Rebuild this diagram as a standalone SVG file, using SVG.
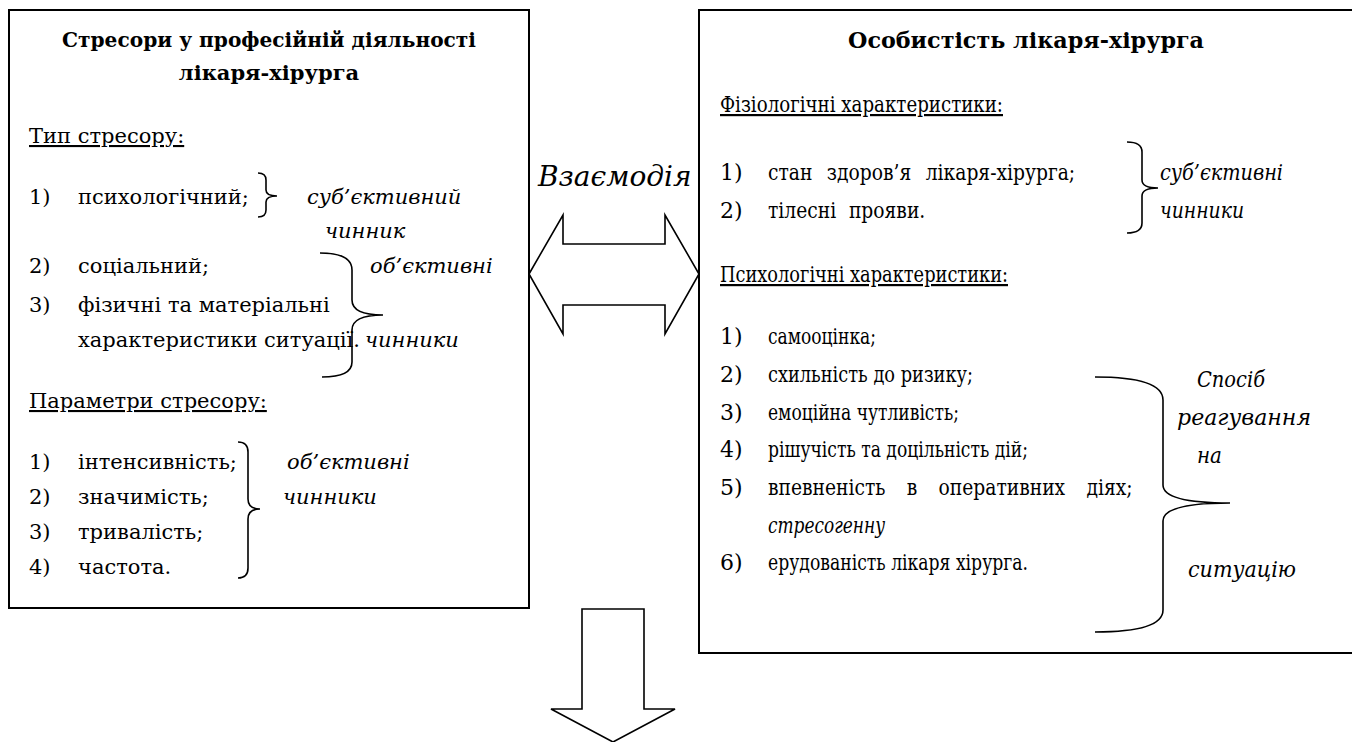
<svg xmlns="http://www.w3.org/2000/svg" width="1352" height="742" viewBox="0 0 1352 742">
<style>
text{font-family:"DejaVu Serif","Liberation Serif",serif;font-size:21px;fill:#000}
.r text{font-size:22px}
.b{font-weight:700}
.i{font-style:italic}
.u{text-decoration:underline}
.box{fill:#fff;stroke:#000;stroke-width:2}
.br{fill:none;stroke:#000;stroke-width:1.6}
.arr{fill:#fff;stroke:#000;stroke-width:1.6;stroke-linejoin:miter}
</style>
<rect width="1352" height="742" fill="#fff"/>
<g id="stressors">
<rect class="box" x="9" y="10" width="520" height="598"/>
<text class="b" x="269" y="47" text-anchor="middle" textLength="414" lengthAdjust="spacingAndGlyphs">Стресори у професійній діяльності</text>
<text class="b" x="269" y="80" text-anchor="middle">лікаря-хірурга</text>
<text class="u" x="29" y="143">Тип стресору:</text>
<text x="29" y="204">1)</text><text x="78" y="204">психологічний;</text>
<path class="br" d="M258,173 Q266,173 266,180 L266,190 Q266,196 277,196 Q266,196 266,202 L266,210 Q266,217 258,217"/>
<text class="i" x="307" y="204">суб’єктивний</text>
<text class="i" x="325" y="238">чинник</text>
<text x="29" y="273">2)</text><text x="78" y="273">соціальний;</text>
<text class="i" x="370" y="273">об’єктивні</text>
<text x="29" y="312">3)</text><text x="78" y="312">фізичні та матеріальні</text>
<text x="78" y="347">характеристики ситуації.</text>
<text class="i" x="365" y="347">чинники</text>
<path class="br" d="M320,253 Q352,253 352,270 L352,300 Q352,315 383,315 Q352,315 352,330 L352,362 Q352,377 322,377"/>
<text class="u" x="29" y="408">Параметри стресору:</text>
<text x="29" y="469">1)</text><text x="78" y="469">інтенсивність;</text>
<text x="29" y="504">2)</text><text x="78" y="504">значимість;</text>
<text x="29" y="539">3)</text><text x="78" y="539">тривалість;</text>
<text x="29" y="574">4)</text><text x="78" y="574">частота.</text>
<path class="br" d="M238,442 Q248,442 248,452 L248,499 Q248,509 260,509 Q248,509 248,519 L248,568 Q248,578 238,578"/>
<text class="i" x="287" y="469">об’єктивні</text>
<text class="i" x="283" y="504">чинники</text>
</g>
<g id="personality" class="r">
<rect class="box" x="699" y="10" width="670" height="643"/>
<text class="b" x="1026" y="48" text-anchor="middle" textLength="356" lengthAdjust="spacingAndGlyphs">Особистість лікаря-хірурга</text>
<text class="u" x="720" y="112" textLength="283" lengthAdjust="spacingAndGlyphs">Фізіологічні характеристики:</text>
<text x="720" y="180">1)</text><text transform="translate(768,180) scale(0.85,1)" style="word-spacing:10px">стан здоров’я лікаря-хірурга;</text>
<text x="720" y="218">2)</text><text transform="translate(768,218) scale(0.85,1)" style="word-spacing:8px">тілесні прояви.</text>
<path class="br" d="M1127,142 Q1142,142 1142,152 L1142,180 Q1142,188 1158,188 Q1142,188 1142,196 L1142,223 Q1142,233 1127,233"/>
<text class="i" x="1160" y="180" textLength="123" lengthAdjust="spacingAndGlyphs">суб’єктивні</text>
<text class="i" x="1160" y="218" textLength="84" lengthAdjust="spacingAndGlyphs">чинники</text>
<text class="u" x="720" y="282" textLength="288" lengthAdjust="spacingAndGlyphs">Психологічні характеристики:</text>
<text x="720" y="344">1)</text><text x="768" y="344" textLength="108" lengthAdjust="spacingAndGlyphs">самооцінка;</text>
<text x="720" y="382">2)</text><text x="768" y="382" textLength="205" lengthAdjust="spacingAndGlyphs">схильність до ризику;</text>
<text x="720" y="420">3)</text><text x="768" y="420" textLength="191" lengthAdjust="spacingAndGlyphs">емоційна чутливість;</text>
<text x="720" y="457">4)</text><text x="768" y="457" textLength="260" lengthAdjust="spacingAndGlyphs">рішучість та доцільність дій;</text>
<text x="720" y="495">5)</text><text transform="translate(768,495) scale(0.85,1)" style="word-spacing:18px">впевненість в оперативних діях;</text>
<text class="i" x="768" y="533" textLength="117" lengthAdjust="spacingAndGlyphs">стресогенну</text>
<text x="720" y="570">6)</text><text x="768" y="570" textLength="260" lengthAdjust="spacingAndGlyphs">ерудованість лікаря хірурга.</text>
<path class="br" d="M1095,377 Q1163,377 1163,400 L1163,485 Q1163,503 1230,503 Q1163,503 1163,521 L1163,610 Q1163,632 1095,632"/>
<text class="i" x="1197" y="387" textLength="68" lengthAdjust="spacingAndGlyphs">Спосіб</text>
<text class="i" x="1177" y="425" textLength="134" lengthAdjust="spacingAndGlyphs">реагування</text>
<text class="i" x="1197" y="463" textLength="25" lengthAdjust="spacingAndGlyphs">на</text>
<text class="i" x="1188" y="577" textLength="108" lengthAdjust="spacingAndGlyphs">ситуацію</text>
</g>
<g id="interaction-label">
<text class="i" x="538" y="186" style="font-size:28px">Взаємодія</text>
</g>
<g id="connectors">
<path class="arr" d="M529,274 L563,215 L563,244 L665,244 L665,215 L699,274 L665,334 L665,305 L563,305 L563,334 Z"/>
<path class="arr" d="M582,609 L644,609 L644,709 L675,709 L613,742 L551,709 L582,709 Z"/>
</g>
</svg>
